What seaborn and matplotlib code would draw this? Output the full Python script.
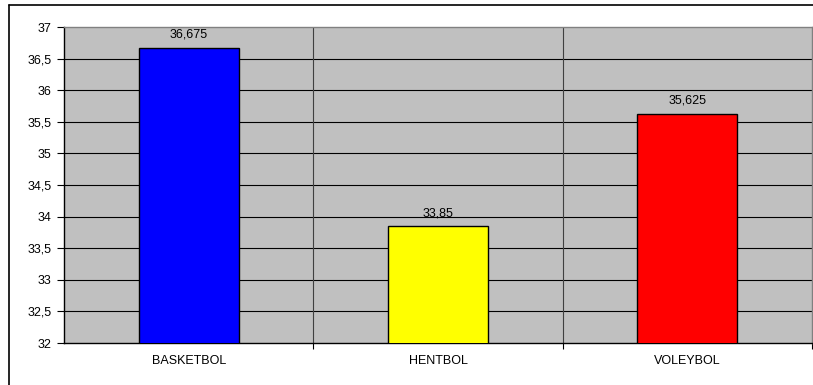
import matplotlib
matplotlib.use("Agg")
import matplotlib.pyplot as plt
import seaborn as sns
import pandas as pd
from matplotlib.lines import Line2D

categories = ["BASKETBOL", "HENTBOL", "VOLEYBOL"]
values = [36.675, 33.85, 35.625]
value_labels = ["36,675", "33,85", "35,625"]
colors = ["#0000FF", "#FFFF00", "#FF0000"]
yticks = [32, 32.5, 33, 33.5, 34, 34.5, 35, 35.5, 36, 36.5, 37]
ytick_labels = ["32", "32,5", "33", "33,5", "34", "34,5", "35", "35,5", "36", "36,5", "37"]

sns.set_style("white")
plt.rcParams["font.family"] = ["Liberation Sans", "DejaVu Sans"]
plt.rcParams["text.color"] = "black"
plt.rcParams["xtick.color"] = "black"
plt.rcParams["ytick.color"] = "black"

df = pd.DataFrame({"cat": categories, "val": values})

fig = plt.figure(figsize=(8.13, 3.85), dpi=100)
ax = fig.add_axes([64/813, 42/385, 748/813, 316/385])
ax.set_facecolor("#C0C0C0")

sns.barplot(data=df, x="cat", y="val", hue="cat", palette=colors, legend=False,
            saturation=1, width=0.4, edgecolor="black", linewidth=1.0, ax=ax, zorder=3)

ax.set_ylim(32, 37)
ax.set_xlim(-0.5, 2.5)
ax.set_yticks(yticks)
ax.set_yticklabels(ytick_labels, fontsize=9, color="black")
ax.set_xticks(range(len(categories)))
ax.set_xticklabels(categories, fontsize=9, color="black")
ax.set_xlabel("")
ax.set_ylabel("")

for y in yticks[1:-1]:
    ax.axhline(y, color="black", linewidth=0.8, zorder=1)
for x in [0.5, 1.5]:
    ax.axvline(x, color="#404040", linewidth=0.8, zorder=1)

ax.set_xticks([0.5, 1.5, 2.5], minor=True)
ax.tick_params(axis="x", which="major", bottom=False, length=0, pad=9)
ax.tick_params(axis="x", which="minor", bottom=True, length=4, width=0.8, color="black", direction="out")
ax.tick_params(axis="y", left=True, length=5, width=0.8, color="black", direction="out", pad=4)

for s in ["left", "bottom"]:
    ax.spines[s].set_color("black")
    ax.spines[s].set_linewidth(1.0)
for s in ["top", "right"]:
    ax.spines[s].set_color("#808080")
    ax.spines[s].set_linewidth(1.0)

for i, (v, lab) in enumerate(zip(values, value_labels)):
    ax.annotate(lab, (i, v), xytext=(0, 5), textcoords="offset points",
                ha="center", va="bottom", fontsize=9, color="black", zorder=5)

# outer chart border (left and top edges visible)
fig.add_artist(Line2D([9/813, 9/813], [0, 1 - 5/385], transform=fig.transFigure,
                      color="black", linewidth=1.2))
fig.add_artist(Line2D([9/813, 1], [1 - 5/385, 1 - 5/385], transform=fig.transFigure,
                      color="black", linewidth=1.2))

fig.savefig("out.png", dpi=100)
